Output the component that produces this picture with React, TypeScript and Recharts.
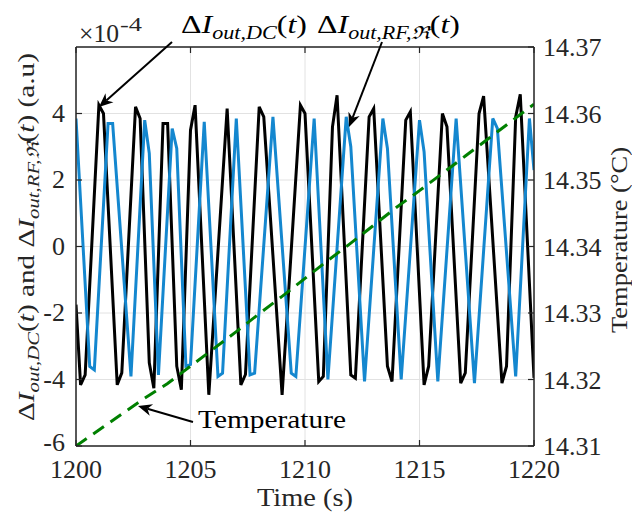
import React from 'react'
import {
  LineChart, Line, XAxis, YAxis, CartesianGrid, ReferenceLine,
} from 'recharts'

// DC current change (units of 1e-4, a.u)
const dcTime  = [1200.0, 1200.2, 1200.4, 1201.0, 1201.2, 1201.8, 1202.0, 1202.6, 1202.8, 1203.2, 1203.4, 1203.8, 1204.0, 1204.4, 1204.6, 1205.0, 1205.2, 1205.8, 1206.6, 1207.2, 1207.4, 1208.0, 1208.2, 1209.0, 1209.8, 1210.0, 1210.6, 1210.8, 1211.2, 1211.4, 1212.0, 1212.2, 1212.8, 1213.0, 1213.6, 1213.8, 1214.4, 1214.6, 1215.2, 1215.4, 1216.0, 1216.2, 1216.8, 1217.0, 1217.6, 1217.8, 1218.6, 1218.8, 1219.2, 1219.4, 1220.0]
const dcValue = [-1.75, -4.16, -3.86, 4.25, 4.0, -4.16, -3.8, 4.2, 3.85, -3.5, -4.26, 3.7, 3.7, -3.6, -4.31, 3.5, 4.25, -4.46, 4.15, -4.16, -3.85, 4.2, 3.9, -4.46, 4.25, 4.0, -4.06, -3.91, 3.6, 4.55, -3.86, -3.96, 3.9, 4.15, -3.6, -4.06, 3.8, 4.05, -4.16, -3.6, 4.0, 3.6, -4.11, -3.8, 4.0, 4.52, -4.11, -3.6, 3.9, 4.58, -3.95]

// RF (real part) current change (units of 1e-4, a.u)
const rfTime  = [1200.0, 1200.6, 1200.8, 1201.4, 1201.6, 1202.4, 1203.0, 1203.2, 1203.6, 1204.2, 1204.4, 1204.8, 1205.0, 1205.6, 1206.2, 1206.4, 1207.0, 1207.6, 1207.8, 1208.6, 1209.4, 1209.6, 1210.4, 1211.0, 1211.8, 1212.0, 1212.6, 1213.4, 1213.6, 1214.2, 1215.0, 1215.2, 1215.8, 1216.6, 1217.4, 1218.2, 1218.4, 1219.2, 1219.8, 1220.0]
const rfValue = [3.85, -3.61, -3.71, 3.7, 3.7, -3.91, 3.8, 2.8, -3.86, 3.55, 2.95, -3.6, -3.55, 3.75, -3.91, -3.81, 3.85, -3.86, -3.81, 3.9, -3.81, -3.91, 3.85, -4.0, 3.9, 3.0, -4.06, 3.85, 2.95, -4.0, 3.8, 2.85, -4.06, 3.85, -4.11, 3.85, 3.55, -3.91, 3.85, 2.3]

// temperature (°C)
const tempTime  = [1200, 1201, 1202, 1203, 1204, 1205, 1206, 1207, 1208, 1209, 1210, 1211, 1212, 1213, 1214, 1215, 1216, 1217, 1218, 1219, 1220]
const tempValue = [14.3100, 14.3124, 14.3148, 14.3172, 14.3194, 14.3220, 14.3246, 14.3272, 14.3299, 14.3325, 14.3352, 14.3379, 14.3405, 14.3432, 14.3459, 14.3484, 14.3510, 14.3536, 14.3562, 14.3588, 14.3614]

const xTicks     = [1200, 1205, 1210, 1215, 1220]
const leftTicks  = [-6, -4, -2, 0, 2, 4]
const rightTicks = [14.31, 14.32, 14.33, 14.34, 14.35, 14.36, 14.37]

const dcData   = dcTime.map((t, i) => ({ t, v: dcValue[i] }))
const rfData   = rfTime.map((t, i) => ({ t, v: rfValue[i] }))
const tempData = tempTime.map((t, i) => ({ t, v: tempValue[i] }))

const FONT  = 'Liberation Serif, Times New Roman, serif'
const AXIS  = '#262626'
const TOP   = 47
const BLUE  = '#1487cf'
const GREEN = '#008000'

function XTick({ x, y, payload }: any) {
  return (
    <g>
      <line x1={x} x2={x} y1={y} y2={y - 6} stroke={AXIS} strokeWidth={1.2} />
      <line x1={x} x2={x} y1={TOP} y2={TOP + 6} stroke={AXIS} strokeWidth={1.2} />
      <text x={x} y={y + 32} textAnchor="middle" style={{ fontFamily: FONT, fontSize: 26 }} fill={AXIS}>
        {payload.value}
      </text>
    </g>
  )
}

function LeftTick({ x, y, payload }: any) {
  // the bottom label sits just above the 1200 label, as in the original
  const lift = payload.value === -6 ? -3 : 0
  return (
    <g>
      <line x1={x} x2={x + 6} y1={y} y2={y} stroke={AXIS} strokeWidth={1.2} />
      <text x={x - 11} y={y + 8 + lift} textAnchor="end" style={{ fontFamily: FONT, fontSize: 26 }} fill={AXIS}>
        {payload.value}
      </text>
    </g>
  )
}

function RightTick({ x, y, payload }: any) {
  return (
    <g>
      <line x1={x} x2={x - 6} y1={y} y2={y} stroke={AXIS} strokeWidth={1.2} />
      <text x={x + 9} y={y + 9} textAnchor="start" style={{ fontFamily: FONT, fontSize: 26 }} fill={AXIS}>
        {payload.value.toFixed(2)}
      </text>
    </g>
  )
}

function Arrow({ x1, y1, x2, y2 }: { x1: number; y1: number; x2: number; y2: number }) {
  const len = Math.hypot(x2 - x1, y2 - y1)
  const dx = (x2 - x1) / len
  const dy = (y2 - y1) / len
  const L = 14, W = 6
  const bx = x2 - dx * L, by = y2 - dy * L
  const nx = x2 - dx * L * 0.7, ny = y2 - dy * L * 0.7
  const pts = [
    [x2, y2],
    [bx - dy * W, by + dx * W],
    [nx, ny],
    [bx + dy * W, by - dx * W],
  ].map(p => p.join(',')).join(' ')
  return (
    <g>
      <line x1={x1} y1={y1} x2={nx} y2={ny} stroke="#000" strokeWidth={2} />
      <polygon points={pts} fill="#000" />
    </g>
  )
}

function Overlay() {
  return (
    <svg width={632} height={512} style={{ position: 'absolute', left: 0, top: 0, pointerEvents: 'none', fontFamily: FONT }}>
      <g fill="#000">
        {/* exponent */}
        <text x={79} y={42} fontSize={26} style={{ fontSize: 26 }} fill={AXIS} textLength={40} lengthAdjust="spacingAndGlyphs">
          ×10
        </text>
        <text x={120} y={31} fontSize={18} style={{ fontSize: 18 }} fill={AXIS} textLength={22} lengthAdjust="spacingAndGlyphs">
          -4
        </text>

        {/* series annotations */}
        <text x={181} y={33} style={{ fontSize: 26 }} textLength={126} lengthAdjust="spacingAndGlyphs">
          Δ<tspan fontStyle="italic">I</tspan>
          <tspan style={{ fontSize: 18 }} fontStyle="italic" dy={6}>out,DC</tspan>
          <tspan dy={-6}>(</tspan><tspan fontStyle="italic">t</tspan>)
        </text>
        <Arrow x1={172} y1={42} x2={99} y2={107} />

        <text x={317} y={33} style={{ fontSize: 26 }} textLength={143} lengthAdjust="spacingAndGlyphs">
          Δ<tspan fontStyle="italic">I</tspan>
          <tspan style={{ fontSize: 18 }} fontStyle="italic" dy={6}>out,RF,ℜ</tspan>
          <tspan dy={-6}>(</tspan><tspan fontStyle="italic">t</tspan>)
        </text>
        <Arrow x1={382} y1={42} x2={349} y2={127} />

        <text x={198} y={428} style={{ fontSize: 26 }} textLength={148} lengthAdjust="spacingAndGlyphs">
          Temperature
        </text>
        <Arrow x1={193} y1={422} x2={138} y2={406} />

        {/* axis titles */}
        <text x={305} y={506} textAnchor="middle" style={{ fontSize: 26 }} fill={AXIS} textLength={96} lengthAdjust="spacingAndGlyphs">
          Time (s)
        </text>
        <text
          x={34} y={237} transform="rotate(-90 34 237)" textAnchor="middle"
          style={{ fontSize: 24 }} fill={AXIS} textLength={368} lengthAdjust="spacingAndGlyphs"
        >
          Δ<tspan fontStyle="italic">I</tspan>
          <tspan style={{ fontSize: 17 }} fontStyle="italic" dy={5}>out,DC</tspan>
          <tspan dy={-5}>(</tspan><tspan fontStyle="italic">t</tspan>) and Δ<tspan fontStyle="italic">I</tspan>
          <tspan style={{ fontSize: 17 }} fontStyle="italic" dy={5}>out,RF,ℜ</tspan>
          <tspan dy={-5}>(</tspan><tspan fontStyle="italic">t</tspan>) (a.u)
        </text>
        <text
          x={627} y={240} transform="rotate(-90 627 240)" textAnchor="middle"
          style={{ fontSize: 24 }} fill={AXIS} textLength={186} lengthAdjust="spacingAndGlyphs"
        >
          Temperature (°C)
        </text>
      </g>
    </svg>
  )
}

export default function App() {
  return (
    <div style={{ position: 'absolute', left: 0, top: 0, width: 632, height: 512, background: '#fff' }}>
      <LineChart width={632} height={512} margin={{ top: TOP, right: 0, bottom: 0, left: 0 }}>
        <CartesianGrid yAxisId="left" stroke="#e2e2e2" strokeWidth={1} />
        <XAxis
          type="number"
          dataKey="t"
          domain={[1200, 1220]}
          ticks={xTicks}
          interval={0}
          allowDataOverflow
          height={66}
          tickSize={0}
          tickMargin={0}
          tickLine={false}
          axisLine={{ stroke: AXIS, strokeWidth: 1.5 }}
          tick={<XTick />}
        />
        <YAxis
          yAxisId="left"
          type="number"
          domain={[-6, 6]}
          ticks={leftTicks}
          interval={0}
          allowDataOverflow
          width={76}
          tickSize={0}
          tickMargin={0}
          tickLine={false}
          axisLine={{ stroke: AXIS, strokeWidth: 1.5 }}
          tick={<LeftTick />}
        />
        <YAxis
          yAxisId="right"
          orientation="right"
          type="number"
          domain={[14.31, 14.37]}
          ticks={rightTicks}
          interval={0}
          allowDataOverflow
          width={98}
          tickSize={0}
          tickMargin={0}
          tickLine={false}
          axisLine={{ stroke: AXIS, strokeWidth: 1.5 }}
          tick={<RightTick />}
        />
        <ReferenceLine yAxisId="left" y={6} stroke={AXIS} strokeWidth={1.5} />
        <Line
          yAxisId="left"
          data={dcData}
          dataKey="v"
          type="linear"
          stroke="#000"
          strokeWidth={3}
          dot={false}
          activeDot={false}
          isAnimationActive={false}
        />
        <Line
          yAxisId="left"
          data={rfData}
          dataKey="v"
          type="linear"
          stroke={BLUE}
          strokeWidth={3}
          dot={false}
          activeDot={false}
          isAnimationActive={false}
        />
        <Line
          yAxisId="right"
          data={tempData}
          dataKey="v"
          type="linear"
          stroke={GREEN}
          strokeWidth={3}
          strokeDasharray="13 8"
          dot={false}
          activeDot={false}
          isAnimationActive={false}
        />
      </LineChart>
      <Overlay />
    </div>
  )
}
